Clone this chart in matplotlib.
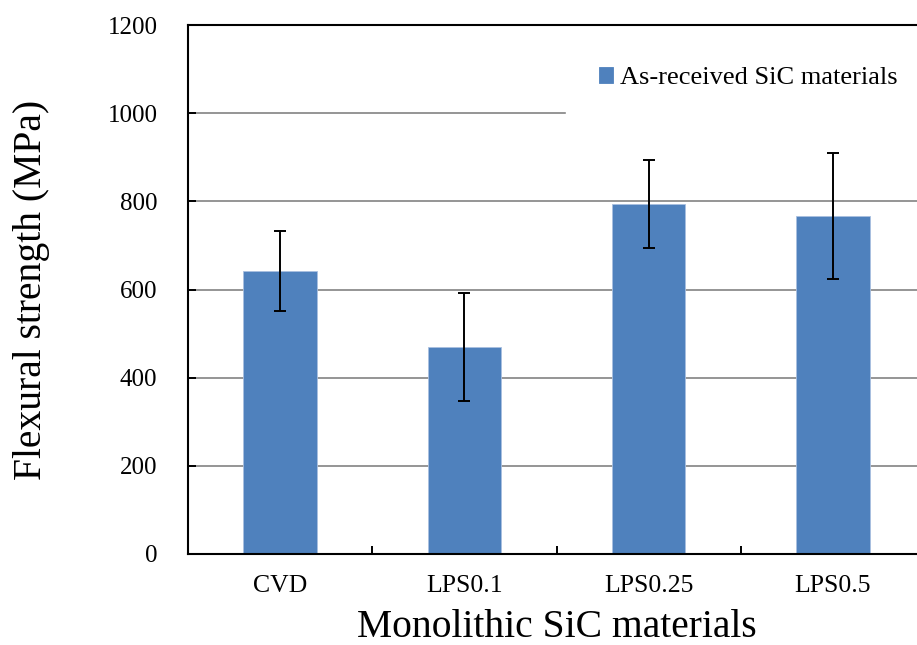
import matplotlib.pyplot as plt
import numpy as np
from matplotlib.ticker import FixedLocator

plt.rcParams["font.family"] = ["Liberation Serif", "DejaVu Serif"]

materials = ["CVD", "LPS0.1", "LPS0.25", "LPS0.5"]
strength = [642, 470, 794, 766]
strength_err = [90, 122, 99, 143]
legend_label = "As-received SiC materials"

W, H = 917, 645
fig = plt.figure(figsize=(W / 100, H / 100), dpi=100)
# axes runs a bit past the right edge of the figure, as in the source
ax = fig.add_axes([188 / W, (H - 554) / H, (925 - 188) / W, (554 - 25) / H])

x = np.arange(len(materials))
ax.bar(x, strength, width=0.40, color="#4F81BD", edgecolor="#a9c0e0",
       linewidth=0.6, zorder=2, label=legend_label)
ax.errorbar(x, strength, yerr=strength_err, fmt="none", ecolor="black",
            elinewidth=1.4, capsize=4.6, capthick=1.4, zorder=3)

ax.set_xlim(-0.5, 3.5)
ax.set_ylim(0, 1200)
ax.set_yticks(np.arange(0, 1201, 200))
ax.yaxis.grid(True, color="#8c8c8c", linewidth=1.3, zorder=0)
ax.set_axisbelow(True)

ax.set_xticks(x)
ax.set_xticklabels(materials)
ax.xaxis.set_minor_locator(FixedLocator(np.arange(-0.5, 4.0, 1.0)))
ax.tick_params(axis="x", which="major", length=0, pad=15, labelsize=18.5)
ax.tick_params(axis="x", which="minor", direction="in", length=6, width=1.4)
ax.tick_params(axis="y", direction="in", length=6, width=1.4, pad=22, labelsize=18)

for s in ax.spines.values():
    s.set_linewidth(1.5)
    s.set_color("black")

ax.set_xlabel("Monolithic SiC materials", fontsize=28.5, labelpad=9)
ax.set_ylabel("Flexural strength (MPa)", fontsize=28.5, labelpad=41)

leg = ax.legend(loc="upper left", bbox_to_anchor=(566 / W, 1 - 34 / H),
                bbox_transform=fig.transFigure, fontsize=19, frameon=True,
                fancybox=False, borderpad=1.25, handlelength=0.53,
                handleheight=0.53, handletextpad=0.25, borderaxespad=0)
leg.get_frame().set_facecolor("white")
leg.get_frame().set_edgecolor("white")
leg.get_frame().set_alpha(1)
for p in leg.get_patches():
    p.set_edgecolor("#4F81BD")

fig.savefig("out.png", dpi=100)
